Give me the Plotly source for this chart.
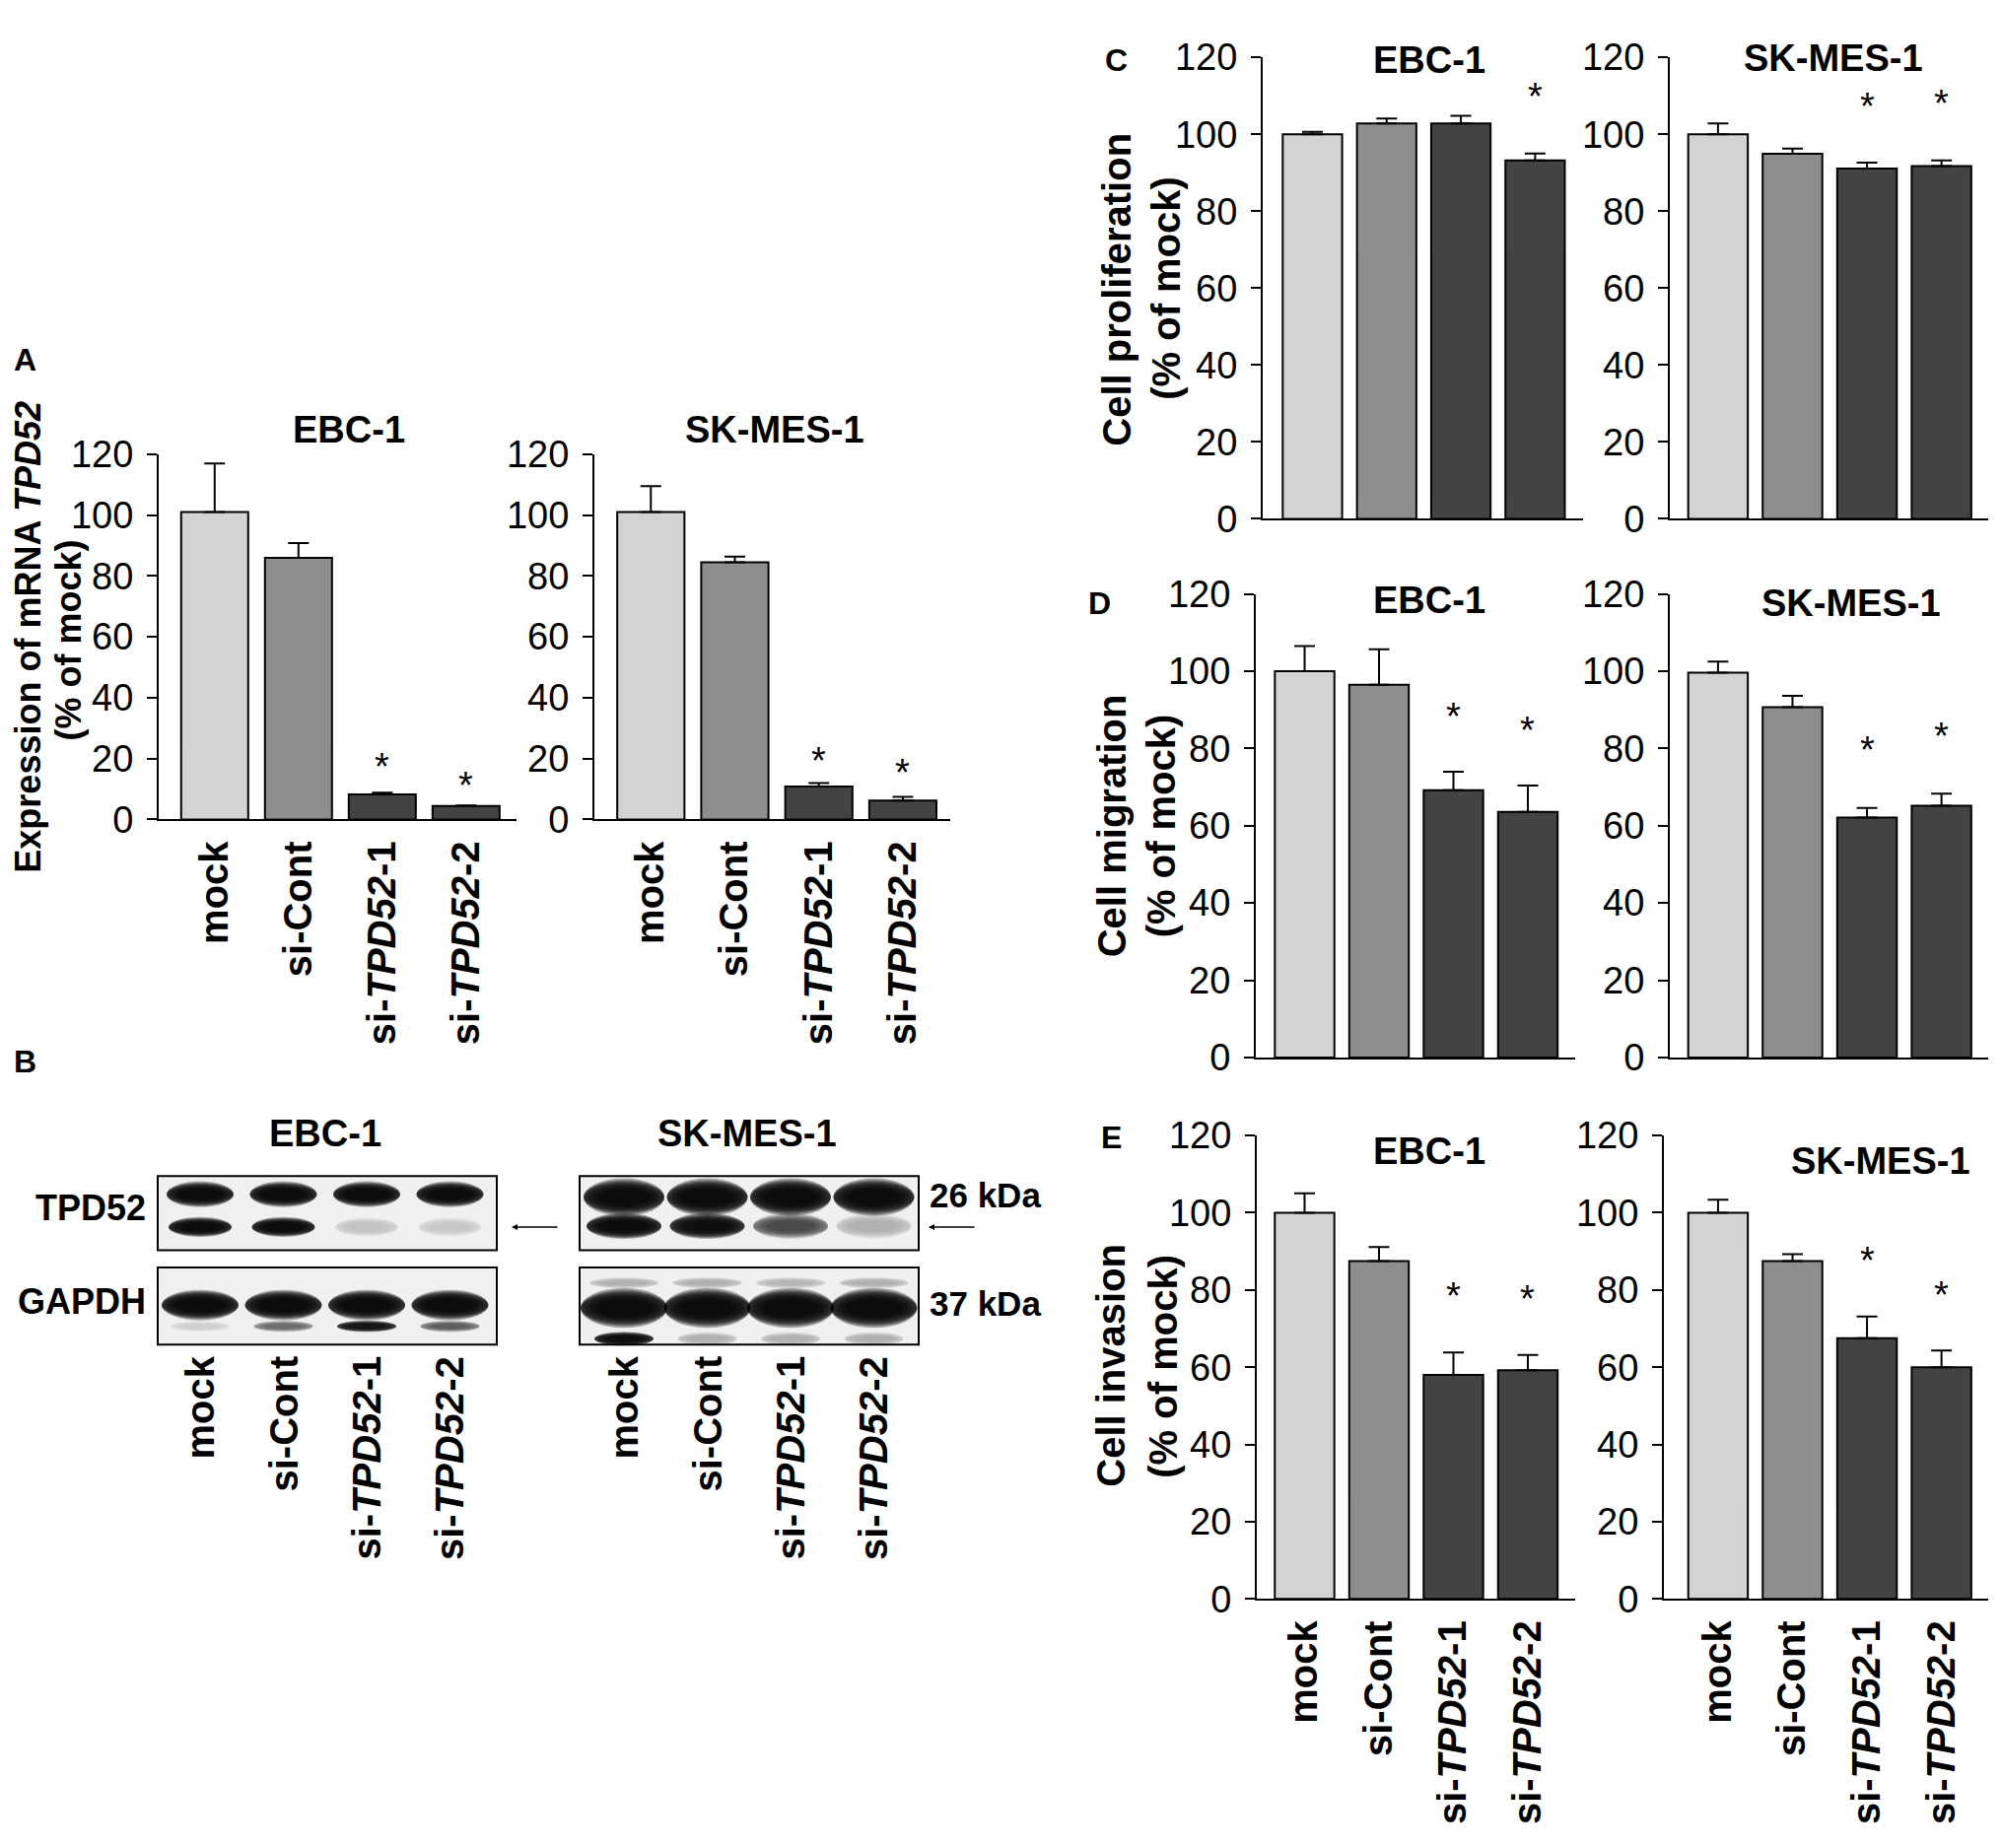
import plotly.graph_objects as go

# ---------------- data ----------------
categories = ["mock", "si-Cont", "si-TPD52-1", "si-TPD52-2"]
category_ticktext = ["mock", "si-Cont", "si-<i>TPD52</i>-1", "si-<i>TPD52</i>-2"]
cell_lines = ["EBC-1", "SK-MES-1"]
y_ticks = [0, 20, 40, 60, 80, 100, 120]
bar_colors = ["#d3d3d3", "#8e8e8e", "#434343", "#434343"]

# A: mRNA expression of TPD52 (% of mock)
mrna_ebc = [101.0, 86.0, 8.2, 4.4]
mrna_ebc_err = [16.0, 4.8, 0.6, 0.2]
mrna_ebc_star = [None, None, 20.3, 14.0]
mrna_sk = [101.0, 84.5, 10.8, 6.2]
mrna_sk_err = [8.5, 1.9, 1.2, 1.2]
mrna_sk_star = [None, None, 22.3, 18.3]

# C: cell proliferation (% of mock)
prolif_ebc = [100.0, 102.8, 102.8, 93.2]
prolif_ebc_err = [0.6, 1.3, 2.0, 1.8]
prolif_ebc_star = [None, None, None, 112.0]
prolif_sk = [100.0, 94.9, 91.1, 91.7]
prolif_sk_err = [2.8, 1.4, 1.5, 1.5]
prolif_sk_star = [None, None, 109.5, 110.2]

# D: cell migration (% of mock)
migr_ebc = [100.0, 96.5, 69.2, 63.6]
migr_ebc_err = [6.5, 9.2, 4.8, 6.8]
migr_ebc_star = [None, None, 90.5, 86.9]
migr_sk = [99.6, 90.7, 62.1, 65.2]
migr_sk_err = [2.9, 2.9, 2.5, 3.1]
migr_sk_star = [None, None, 81.8, 85.4]

# E: cell invasion (% of mock)
inva_ebc = [100.0, 87.5, 58.0, 59.2]
inva_ebc_err = [5.0, 3.6, 5.8, 4.0]
inva_ebc_star = [None, None, 80.6, 80.0]
inva_sk = [100.0, 87.5, 67.5, 60.0]
inva_sk_err = [3.4, 1.8, 5.6, 4.3]
inva_sk_star = [None, None, 89.8, 81.0]

# B: western blot band intensities (0 = none, 1 = saturated), per lane
blot_rows = ["TPD52", "GAPDH"]
blot_sizes = ["26 kDa", "37 kDa"]
tpd52_upper_ebc = [1.0, 1.0, 1.0, 1.0]
tpd52_lower_ebc = [1.0, 1.0, 0.08, 0.06]
tpd52_upper_sk = [1.0, 1.0, 1.0, 1.0]
tpd52_lower_sk = [1.0, 0.95, 0.45, 0.12]
gapdh_main_ebc = [1.0, 1.0, 1.0, 1.0]
gapdh_minor_ebc = [0.05, 0.3, 0.85, 0.35]
gapdh_main_sk = [1.0, 1.0, 1.0, 1.0]
gapdh_minor_sk = [0.95, 0.12, 0.12, 0.12]
gapdh_faint_sk = [0.12, 0.12, 0.1, 0.12]

# ---------------- layout constants ----------------
W, H = 2031, 1875
FONT = "Liberation Sans, Arial, Helvetica, sans-serif"


def PX(x):
    return x / W


def PY(y):
    return 1 - y / H


panels = [
    dict(mean=mrna_ebc, err=mrna_ebc_err, star=mrna_ebc_star, title=cell_lines[0],
         x0=161, x1=524, ytop=450, ybot=829, xr=(-0.668, 3.602), tx=354, ty=424, labels=True),
    dict(mean=mrna_sk, err=mrna_sk_err, star=mrna_sk_star, title=cell_lines[1],
         x0=603, x1=964, ytop=450, ybot=829, xr=(-0.672, 3.564), tx=786, ty=424, labels=True),
    dict(mean=prolif_ebc, err=prolif_ebc_err, star=prolif_ebc_star, title=cell_lines[0],
         x0=1281, x1=1606, ytop=38, ybot=517, xr=(-0.67, 3.646), tx=1450, ty=41, labels=False),
    dict(mean=prolif_sk, err=prolif_sk_err, star=prolif_sk_star, title=cell_lines[1],
         x0=1694, x1=2017, ytop=38, ybot=517, xr=(-0.647, 3.627), tx=1860, ty=39, labels=False),
    dict(mean=migr_ebc, err=migr_ebc_err, star=migr_ebc_star, title=cell_lines[0],
         x0=1274, x1=1598, ytop=595, ybot=1076, xr=(-0.656, 3.636), tx=1450, ty=601, labels=False),
    dict(mean=migr_sk, err=migr_sk_err, star=migr_sk_star, title=cell_lines[1],
         x0=1694, x1=2017, ytop=595, ybot=1076, xr=(-0.647, 3.627), tx=1878, ty=605, labels=False),
    dict(mean=inva_ebc, err=inva_ebc_err, star=inva_ebc_star, title=cell_lines[0],
         x0=1275, x1=1598, ytop=1157, ybot=1638, xr=(-0.642, 3.636), tx=1450, ty=1173, labels=True),
    dict(mean=inva_sk, err=inva_sk_err, star=inva_sk_star, title=cell_lines[1],
         x0=1688, x1=2017, ytop=1157, ybot=1638, xr=(-0.727, 3.627), tx=1908, ty=1183, labels=True),
]

fig = go.Figure()
annotations = []
shapes = []
layout_axes = {}

for i, p in enumerate(panels, start=1):
    sfx = "" if i == 1 else str(i)
    xa, ya = "x" + sfx, "y" + sfx
    fig.add_trace(go.Bar(
        x=categories, y=p["mean"], xaxis=xa, yaxis=ya, width=0.8,
        marker=dict(color=bar_colors, line=dict(color="black", width=2)),
        error_y=dict(type="data", array=p["err"], arrayminus=[0] * 4, symmetric=False,
                     color="black", thickness=2, width=10.5),
        showlegend=False, hoverinfo="skip",
    ))
    layout_axes["xaxis" + sfx] = dict(
        domain=[PX(p["x0"]), PX(p["x1"])], anchor=ya, type="category",
        categoryorder="array", categoryarray=categories,
        range=list(p["xr"]), tickvals=categories, ticktext=category_ticktext,
        showticklabels=p["labels"], tickangle=-90, ticks="",
        tickfont=dict(family=FONT, size=40, color="black", weight="bold"),
        ticklabelstandoff=4,
        showline=True, linecolor="black", linewidth=2, showgrid=False, zeroline=False,
        fixedrange=True,
    )
    layout_axes["yaxis" + sfx] = dict(
        domain=[PY(p["ybot"]), PY(p["ytop"])], anchor=xa, range=[0, 120],
        tickvals=y_ticks, ticks="outside", ticklen=10, tickwidth=2, tickcolor="black",
        tickfont=dict(family=FONT, size=38, color="black"), ticklabelstandoff=6,
        showline=True, linecolor="black", linewidth=2, showgrid=False, zeroline=False,
        fixedrange=True,
    )
    annotations.append(dict(
        text=p["title"], x=PX(p["tx"]), y=PY(p["ty"]), xref="paper", yref="paper",
        xanchor="center", yanchor="middle", showarrow=False,
        font=dict(family=FONT, size=38, color="black", weight="bold"),
    ))
    for cat, s in zip(categories, p["star"]):
        if s is None:
            continue
        annotations.append(dict(
            text="*", x=cat, y=s, xref=xa, yref=ya, xanchor="center", yanchor="middle",
            yshift=-9, showarrow=False,
            font=dict(family=FONT, size=38, color="black"),
        ))

# y-axis titles (two lines each)
ytitles = [
    ("Expression of mRNA <i>TPD52</i>", 29, 640, 36),
    ("(% of mock)", 70, 643, 36),
    ("Cell proliferation", 1133, 279, 40),
    ("(% of mock)", 1183, 278, 40),
    ("Cell migration", 1128, 836, 40),
    ("(% of mock)", 1178, 836, 40),
    ("Cell invasion", 1127, 1396, 40),
    ("(% of mock)", 1180, 1397, 40),
]
for txt, x, y, size in ytitles:
    annotations.append(dict(
        text=txt, x=PX(x), y=PY(y), xref="paper", yref="paper", textangle=-90,
        xanchor="center", yanchor="middle", showarrow=False,
        font=dict(family=FONT, size=size, color="black", weight="bold"),
    ))

# panel letters
for letter, x, y in [("A", 25, 352), ("B", 25, 1080), ("C", 1132, 41), ("D", 1115, 605), ("E", 1127, 1159)]:
    annotations.append(dict(
        text=letter, x=PX(x), y=PY(y), xref="paper", yref="paper",
        xanchor="center", yanchor="middle", showarrow=False,
        font=dict(family=FONT, size=32, color="black", weight="bold"),
    ))

# ---------------- panel B: western blots ----------------
blot_geom = {
    cell_lines[0]: dict(x0=160, x1=504, lane0=203, title_x=330),
    cell_lines[1]: dict(x0=588, x1=932, lane0=633, title_x=758),
}
LANE_STEP = 84.5
row_geom = {"TPD52": (1199, 1276), "GAPDH": (1294, 1374)}

band_specs = [
    (cell_lines[0], 1218, 22, 68, tpd52_upper_ebc),
    (cell_lines[0], 1252, 17, 64, tpd52_lower_ebc),
    (cell_lines[1], 1221, 32, 82, tpd52_upper_sk),
    (cell_lines[1], 1251, 22, 76, tpd52_lower_sk),
    (cell_lines[0], 1333, 26, 78, gapdh_main_ebc),
    (cell_lines[0], 1355, 10, 60, gapdh_minor_ebc),
    (cell_lines[1], 1310, 10, 70, gapdh_faint_sk),
    (cell_lines[1], 1336, 34, 88, gapdh_main_sk),
    (cell_lines[1], 1368, 12, 60, gapdh_minor_sk),
]

# background of blot boxes
for cell, g in blot_geom.items():
    for row, (yt, yb) in row_geom.items():
        shapes.append(dict(type="rect", xref="paper", yref="paper",
                           x0=PX(g["x0"]), x1=PX(g["x1"]), y0=PY(yb), y1=PY(yt),
                           fillcolor="#f0f0f0", line=dict(width=0)))

layers = [1.22, 1.12, 1.03, 0.95, 0.87, 0.78, 0.68, 0.56]
for cell, cy, h, w, inten in band_specs:
    g = blot_geom[cell]
    for lane, a in enumerate(inten):
        cx = g["lane0"] + lane * LANE_STEP
        for scale in layers:
            ww, hh = w * min(1.0, scale + 0.1), h * scale
            shapes.append(dict(type="circle", xref="paper", yref="paper",
                               x0=PX(cx - ww / 2), x1=PX(cx + ww / 2),
                               y0=PY(cy + hh / 2), y1=PY(cy - hh / 2),
                               fillcolor=f"rgba(0,0,0,{0.3 * a:.3f})", line=dict(width=0)))

# box borders and labels
for cell, g in blot_geom.items():
    for row, (yt, yb) in row_geom.items():
        shapes.append(dict(type="rect", xref="paper", yref="paper",
                           x0=PX(g["x0"]), x1=PX(g["x1"]), y0=PY(yb), y1=PY(yt),
                           fillcolor="rgba(0,0,0,0)", line=dict(color="black", width=2)))
    annotations.append(dict(
        text=cell, x=PX(g["title_x"]), y=PY(1155), xref="paper", yref="paper",
        xanchor="center", yanchor="middle", showarrow=False,
        font=dict(family=FONT, size=38, color="black", weight="bold"),
    ))
    for lane, lab in enumerate(category_ticktext):
        annotations.append(dict(
            text=lab, x=PX(g["lane0"] + lane * LANE_STEP), y=PY(1384), xref="paper", yref="paper",
            xanchor="center", yanchor="top", textangle=-90, showarrow=False,
            font=dict(family=FONT, size=40, color="black", weight="bold"),
        ))

for row, (yt, yb) in row_geom.items():
    annotations.append(dict(
        text=row, x=PX(150), y=PY((yt + yb) / 2 - 5), xref="paper", yref="paper",
        xanchor="right", yanchor="middle", showarrow=False,
        font=dict(family=FONT, size=36, color="black", weight="bold"),
    ))
for size_lab, y in zip(blot_sizes, [1219, 1331]):
    annotations.append(dict(
        text=size_lab, x=PX(941), y=PY(y), xref="paper", yref="paper",
        xanchor="left", yanchor="middle", showarrow=False,
        font=dict(family=FONT, size=35, color="black", weight="bold"),
    ))
for hx in [519, 942]:
    annotations.append(dict(
        text="", x=PX(hx), y=PY(1252), xref="paper", yref="paper",
        ax=48, ay=0, showarrow=True, arrowhead=2, arrowsize=0.8, arrowwidth=1.5,
        arrowcolor="black",
    ))

fig.update_layout(
    width=W, height=H, margin=dict(l=0, r=0, t=0, b=0),
    paper_bgcolor="white", plot_bgcolor="white",
    font=dict(family=FONT, color="black"),
    annotations=annotations, shapes=shapes, bargap=0.2,
    **layout_axes,
)

pin_page = (
    "var gd = document.getElementById('{plot_id}');"
    "gd.style.position = 'absolute'; gd.style.top = '0px'; gd.style.left = '0px';"
    "document.body.style.margin = '0';"
    "document.documentElement.style.overflow = 'hidden';"
)
fig.write_html("out.html", config={"displayModeBar": False}, post_script=pin_page)
